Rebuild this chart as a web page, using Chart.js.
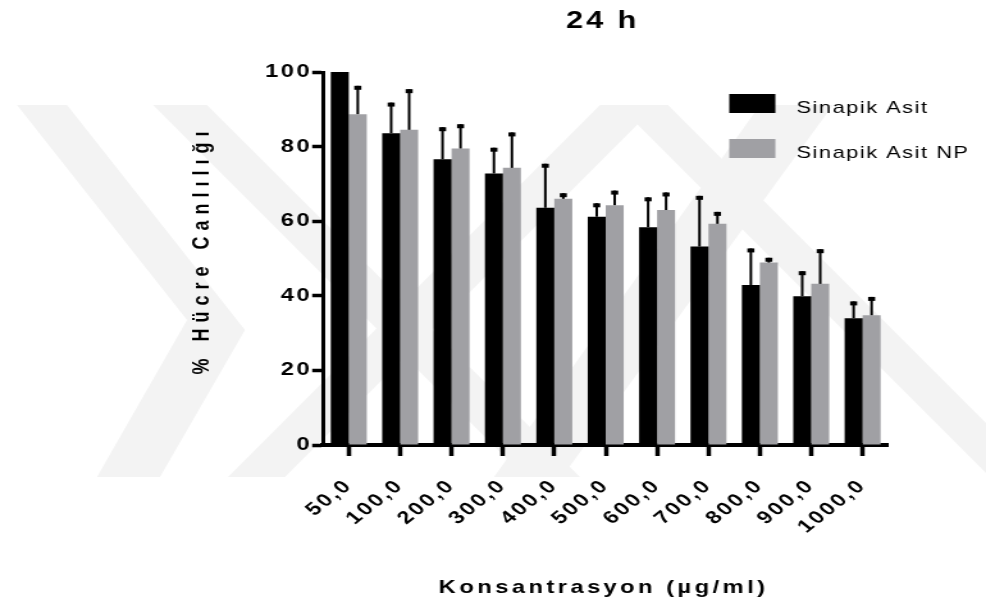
<!DOCTYPE html>
<html>
<head>
<meta charset="utf-8">
<script src="https://cdn.jsdelivr.net/npm/chart.js@4.4.1/dist/chart.umd.min.js"></script>
<style>
  html, body { margin: 0; padding: 0; background: #fff; overflow: hidden; }
  #chart { display: block; }
</style>
</head>
<body>
<!-- el original está estirado en horizontal: se dibuja más estrecho y se estira con CSS -->
<canvas id="chart" width="770" height="608" style="width: 986px; height: 608px;"></canvas>
<script>
// Datos (24 h)
const categories = ["50,0", "100,0", "200,0", "300,0", "400,0", "500,0", "600,0", "700,0", "800,0", "900,0", "1000,0"];
const sinapikAsit = [100, 83.6, 76.6, 72.8, 63.6, 61.2, 58.4, 53.2, 42.9, 39.9, 34.0];
const sinapikAsitErr = [0, 8.2, 8.6, 6.9, 11.8, 3.6, 8.0, 13.6, 9.8, 6.7, 4.5];
const sinapikAsitNP = [88.7, 84.5, 79.5, 74.3, 66.0, 64.3, 63.0, 59.3, 48.9, 43.2, 34.8];
const sinapikAsitNPErr = [7.6, 10.9, 6.5, 9.5, 1.5, 3.9, 4.7, 3.2, 1.3, 9.3, 4.9];
const yTicks = [0, 20, 40, 60, 80, 100];

const STRETCH = 986 / 770;
const FONT = "'Liberation Sans', Arial, sans-serif";
const GREY = "#a0a0a4";

// Marca de agua de fondo (coordenadas de la imagen final)
const WATERMARK = [
    [[17, 105], [67, 105], [245, 330], [160, 477], [97, 477], [187, 320]],
    [[153, 105], [207, 105], [580, 477], [525, 477]],
    [[600, 105], [657, 105], [285, 477], [228, 477]],
    [[760, 105], [833, 105], [562, 477], [494, 477]],
    [[618, 105], [668, 105], [986, 423], [986, 473]]
];

const watermark = {
    id: "watermark",
    beforeDraw(chart) {
        const ctx = chart.ctx;
        ctx.save();
        ctx.fillStyle = "#f3f3f3";
        WATERMARK.forEach(poly => {
            ctx.beginPath();
            poly.forEach(([x, y], i) => i ? ctx.lineTo(x / STRETCH, y) : ctx.moveTo(x / STRETCH, y));
            ctx.closePath();
            ctx.fill();
        });
        ctx.restore();
        // espaciado de letras para las etiquetas de los ejes
        ctx.letterSpacing = "2px";
    }
};

// Barras de error (solo hacia arriba)
const errorBars = {
    id: "errorBars",
    afterDatasetsDraw(chart) {
        const ctx = chart.ctx;
        const yScale = chart.scales.y;
        ctx.save();
        ctx.fillStyle = "#000";
        chart.data.datasets.forEach((ds, i) => {
            const meta = chart.getDatasetMeta(i);
            meta.data.forEach((bar, j) => {
                const err = ds.errors[j];
                if (!err) return;
                const top = yScale.getPixelForValue(ds.data[j] + err);
                ctx.fillRect(bar.x - 1, top, 2, bar.y - top);
                ctx.fillRect(bar.x - 2.75, top, 5.5, 4);
            });
        });
        ctx.restore();
    }
};

function spacedText(ctx, text, x, y, font, spacing, align) {
    ctx.font = font;
    ctx.letterSpacing = spacing + "px";
    ctx.textAlign = align;
    ctx.fillText(text, align === "center" ? x + spacing / 2 : x, y);
}

// Títulos y leyenda
const texts = {
    id: "texts",
    afterDraw(chart) {
        const ctx = chart.ctx;
        ctx.save();
        ctx.fillStyle = "#000";
        ctx.textBaseline = "alphabetic";
        spacedText(ctx, "24 h", 469.5, 28, "bold 24px " + FONT, 2.3, "center");
        spacedText(ctx, "Konsantrasyon (µg/ml)", 470, 593, "bold 18.5px " + FONT, 2.7, "center");

        ctx.save();
        ctx.translate(158, 253);
        ctx.rotate(-Math.PI / 2);
        ctx.textBaseline = "middle";
        spacedText(ctx, "% Hücre Canlılığı", 0, 0, "bold 18px " + FONT, 6, "center");
        ctx.restore();

        // leyenda
        const x0 = 569.5;
        chart.data.datasets.forEach((ds, i) => {
            const top = 94 + i * 45;
            ctx.fillStyle = ds.backgroundColor;
            ctx.fillRect(x0, top, 36, 19);
            ctx.fillStyle = "#000";
            spacedText(ctx, ds.label, 622, top + 18.5, "17px " + FONT, 1.2, "left");
        });
        ctx.restore();
    }
};

new Chart(document.getElementById("chart"), {
    type: "bar",
    data: {
        labels: categories,
        datasets: [
            { label: "Sinapik Asit", data: sinapikAsit, errors: sinapikAsitErr, backgroundColor: "#000" },
            { label: "Sinapik Asit NP", data: sinapikAsitNP, errors: sinapikAsitNPErr, backgroundColor: GREY }
        ]
    },
    options: {
        responsive: false,
        animation: false,
        categoryPercentage: 0.7,
        barPercentage: 1.0,
        layout: { padding: { left: 0, right: 76.3, top: 72, bottom: 63 } },
        plugins: {
            legend: { display: false },
            title: { display: false },
            tooltip: { enabled: false }
        },
        scales: {
            x: {
                afterFit: s => { s.height = 100; },
                grid: {
                    offset: false, drawOnChartArea: false, drawTicks: true,
                    tickLength: 11, tickWidth: 3.5, tickColor: "#000"
                },
                border: { display: true, color: "#000", width: 4 },
                ticks: {
                    autoSkip: false, minRotation: 45, maxRotation: 45, padding: 19,
                    color: "#000", font: { family: FONT, size: 18, weight: "bold" }
                }
            },
            y: {
                min: 0, max: 100,
                afterFit: s => { s.width = 252.3; },
                afterBuildTicks: s => { s.ticks = yTicks.map(v => ({ value: v })); },
                grid: {
                    drawOnChartArea: false, drawTicks: true,
                    tickLength: 8.5, tickWidth: 3.5, tickColor: "#000"
                },
                border: { display: true, color: "#000", width: 3 },
                ticks: {
                    padding: 0,
                    color: "#000", font: { family: FONT, size: 18.5, weight: "bold" }
                }
            }
        }
    },
    plugins: [watermark, errorBars, texts]
});
</script>
</body>
</html>
